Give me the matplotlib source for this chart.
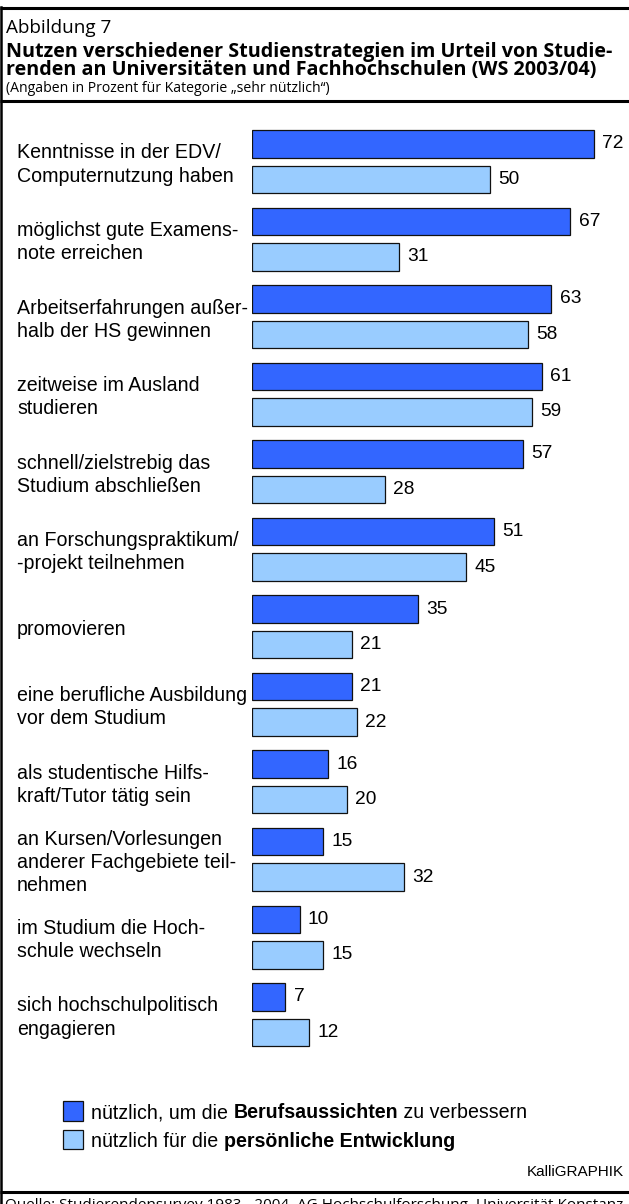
import matplotlib.pyplot as plt
from matplotlib.patches import Rectangle

# Werte in Prozent (Kategorie "sehr nützlich")
strategien = [
    'Kenntnisse in der EDV/\nComputernutzung haben',
    'möglichst gute Examens-\nnote erreichen',
    'Arbeitserfahrungen außer-\nhalb der HS gewinnen',
    'zeitweise im Ausland\nstudieren',
    'schnell/zielstrebig das\nStudium abschließen',
    'an Forschungspraktikum/\n-projekt teilnehmen',
    'promovieren',
    'eine berufliche Ausbildung\nvor dem Studium',
    'als studentische Hilfs-\nkraft/Tutor tätig sein',
    'an Kursen/Vorlesungen\nanderer Fachgebiete teil-\nnehmen',
    'im Studium die Hoch-\nschule wechseln',
    'sich hochschulpolitisch\nengagieren',
]
berufsaussichten = [72, 67, 63, 61, 57, 51, 35, 21, 16, 15, 10, 7]
entwicklung = [50, 31, 58, 59, 28, 45, 21, 22, 20, 32, 15, 12]

DUNKEL = '#3366ff'
HELL = '#99ccff'
W, H = 629, 1204
HEADER_FONT = ['Open Sans', 'DejaVu Sans']
BODY_FONT = ['Liberation Sans', 'DejaVu Sans']
BODY_SIZE = 14.1

fig = plt.figure(figsize=(W / 100, H / 100), dpi=100)

# Rahmenebene in Pixelkoordinaten
frame = fig.add_axes([0, 0, 1, 1])
frame.set_xlim(0, W)
frame.set_ylim(H, 0)
frame.axis('off')

for y in (7.5, 100.5, 1191.5):
    frame.plot([0, W], [y, y], color='black', lw=2.2, solid_capstyle='butt')
frame.plot([1, 1], [7, H], color='black', lw=1.8)

frame.text(6, 33, 'Abbildung 7', family=HEADER_FONT, fontsize=13.6,
           va='baseline')
# baseline der letzten Zeile
frame.text(6, 74.5, 'Nutzen verschiedener Studienstrategien im Urteil von Studie-\n'
           'renden an Universitäten und Fachhochschulen (WS 2003/04)',
           family=HEADER_FONT, fontsize=14.2, fontweight='bold',
           va='baseline', linespacing=0.86)
frame.text(6, 92.5, '(Angaben in Prozent für Kategorie „sehr nützlich“)',
           family=HEADER_FONT, fontsize=10.1, va='baseline')

# Balkenachse: x in Prozent, y in Pixeln
pitch = 77.55
top0 = 130
bar_h = 27.5
dark_y = [top0 + pitch * i for i in range(len(strategien))]
light_y = [y + 35.5 for y in dark_y]

left = 252
scale = 4.75
ax = fig.add_axes([left / W, 0, (W - left) / W, 1])
ax.set_xlim(0, (W - left) / scale)
ax.set_ylim(H, 0)
ax.axis('off')

b1 = ax.barh(dark_y, berufsaussichten, height=bar_h, align='edge',
             color=DUNKEL, edgecolor='#111111', linewidth=0.9)
b2 = ax.barh(light_y, entwicklung, height=bar_h, align='edge',
             color=HELL, edgecolor='#111111', linewidth=0.9)
for cont in (b1, b2):
    ax.bar_label(cont, padding=6, fontsize=13.8, family=BODY_FONT)

for label, y in zip(strategien, dark_y):
    frame.text(17, y + 34.5, label, family=BODY_FONT, fontsize=BODY_SIZE,
               va='center', linespacing=1.28)

# Legende mit fett gesetzten Teilen
renderer = fig.canvas.get_renderer()


def draw_runs(x, y, runs):
    for txt, weight in runs:
        t = frame.text(x, y, txt, family=BODY_FONT, fontsize=BODY_SIZE,
                       fontweight=weight, va='baseline')
        x += t.get_window_extent(renderer).width


legend_rows = [
    (DUNKEL, 1101, [('nützlich, um die ', 'normal'),
                    ('Berufsaussichten', 'bold'),
                    (' zu verbessern', 'normal')]),
    (HELL, 1129.5, [('nützlich für die ', 'normal'),
                    ('persönliche Entwicklung', 'bold')]),
]
for color, y, runs in legend_rows:
    frame.add_patch(Rectangle((63, y), 20, 19.5, facecolor=color,
                              edgecolor='#111111', lw=0.9))
    draw_runs(91, y + 17.5, runs)

frame.text(624, 1172, 'KalliGRAPHIK', family=BODY_FONT, fontsize=11,
           ha='right', va='center')
frame.text(5, 1198, 'Quelle: Studierendensurvey 1983 - 2004, AG Hochschulforschung, '
           'Universität Konstanz', family=HEADER_FONT, fontsize=11, va='top')

fig.savefig('out.png', dpi=100)
